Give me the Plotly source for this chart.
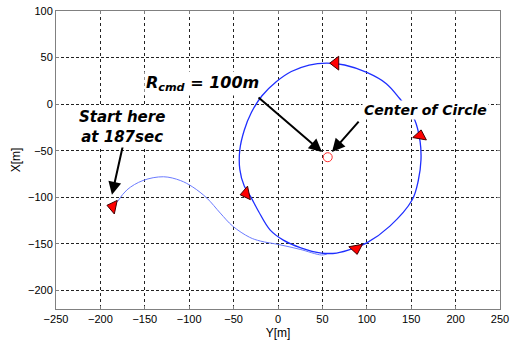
import plotly.graph_objects as go

# Approach path (Y [m], X [m])
approach_y = [-181, -170, -152, -129, -110, -96, -80, -65, -51, -32, -20, 2, 25, 49, 55]
approach_x = [-105, -92, -82, -78, -82, -89, -101, -117, -131, -143, -147, -151, -156, -162, -161]

# Circling path
circle_y = [49, 66, 85, 100, 126, 151, 158, 161, 160, 154, 146, 137, 122, 100, 75, 55, 35, 15,
            -2, -18, -30, -38, -43, -43, -38, -31, -22, -9, 6, 25, 49, 66, 85, 100]
circle_x = [-160, -160, -155, -149, -131, -103, -82, -60, -40, -17, -5, 6, 22, 34, 42, 44, 42, 35,
            24, 9, -9, -28, -49, -70, -88, -99, -115, -135, -146, -154, -160, -160, -155, -149]

# Direction markers
marker_y = [-186, -36, 65, 160, 88]
marker_x = [-110, -96, 44, -34, -155]
marker_symbols = ["triangle-left", "triangle-left", "triangle-left", "triangle-up", "triangle-down"]
marker_angles = [12, -12, 0, 10, -10]

# Center of circle
center_y = [56]
center_x = [-57]

x_ticks = [-250, -200, -150, -100, -50, 0, 50, 100, 150, 200, 250]
y_ticks = [-200, -150, -100, -50, 0, 50, 100]

fig = go.Figure()
fig.add_trace(go.Scatter(x=approach_y, y=approach_x, mode="lines", line_shape="spline",
                         line=dict(color="#6b7bff", width=1), showlegend=False))
fig.add_trace(go.Scatter(x=circle_y, y=circle_x, mode="lines", line_shape="spline",
                         line=dict(color="#1f2fff", width=1.3), showlegend=False))
fig.add_trace(go.Scatter(x=marker_y, y=marker_x, mode="markers",
                         marker=dict(symbol=marker_symbols, angle=marker_angles, size=12,
                                     color="#ff0000", line=dict(color="#400000", width=1)),
                         showlegend=False))
fig.add_trace(go.Scatter(x=center_y, y=center_x, mode="markers",
                         marker=dict(symbol="circle-open", size=9, color="#ff3030",
                                     line=dict(width=1)),
                         showlegend=False))

arrow = dict(showarrow=True, arrowhead=2, arrowsize=1.3, arrowwidth=2, arrowcolor="black",
             axref="x", ayref="y", text="")
fig.add_annotation(x=49.5, y=-51.3, ax=-23.6, ay=8.6, **arrow)
fig.add_annotation(x=60.8, y=-51.3, ax=92.3, ay=-17.1, **arrow)
fig.add_annotation(x=-187, y=-97.3, ax=-174.5, ay=-43.9, **arrow)

fig.add_annotation(x=-84.5, y=22.5, text="<b><i>R<sub>cmd</sub> = 100m</i></b>", showarrow=False,
                   bgcolor="white", font=dict(family="DejaVu Sans", size=16, color="black"))
fig.add_annotation(x=166, y=-6.4, text="<b><i>Center of Circle</i></b>", showarrow=False,
                   bgcolor="white", font=dict(family="DejaVu Sans", size=14, color="black"))
fig.add_annotation(x=-175.7, y=-24.6, text="<b><i>Start here<br>at 187sec</i></b>", showarrow=False,
                   bgcolor="white", font=dict(family="DejaVu Sans", size=15, color="black"))

axis_common = dict(showline=True, mirror="ticks", linecolor="#808080", linewidth=1,
                   ticks="inside", ticklen=3, tickcolor="#808080", showgrid=True,
                   gridcolor="#222222", gridwidth=1, zeroline=False, automargin=False,
                   ticklabeloverflow="allow",
                   tickfont=dict(family="Liberation Sans, Arial", size=11, color="black"))
fig.update_xaxes(range=[-250, 250], tickvals=x_ticks, griddash="dot",
                 title=dict(text="Y[m]", font=dict(family="Liberation Sans, Arial", size=12, color="black"),
                            standoff=4),
                 **axis_common)
fig.update_yaxes(range=[-220, 100], tickvals=y_ticks, griddash="3px,2px",
                 title=dict(text="X[m]", font=dict(family="Liberation Sans, Arial", size=12, color="black"),
                            standoff=4),
                 **axis_common)
fig.update_layout(width=513, height=351, margin=dict(l=56, r=13, t=11, b=42),
                  plot_bgcolor="white", paper_bgcolor="white")
fig.write_html("out.html", config={"displayModeBar": False},
               post_script="document.body.style.margin='0px';")
